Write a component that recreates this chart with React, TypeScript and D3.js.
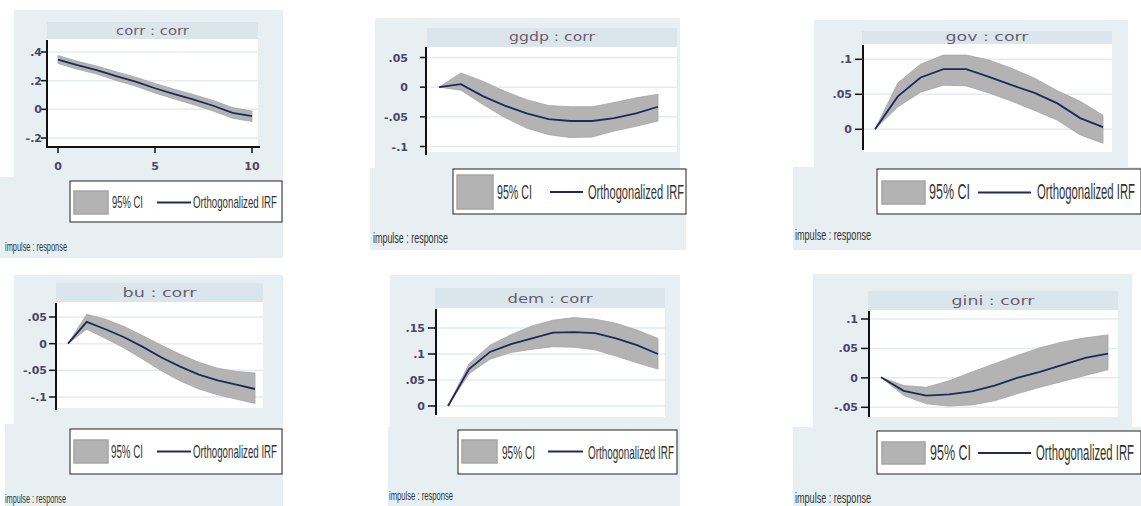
import React from "react";
import * as d3 from "d3";

// ---------- data ----------
const steps = [0, 1, 2, 3, 4, 5, 6, 7, 8, 9, 10];
const panelTitles = ["corr : corr", "ggdp : corr", "gov : corr", "bu : corr", "dem : corr", "gini : corr"];

const corrIrf = [0.347, 0.308, 0.274, 0.232, 0.193, 0.147, 0.106, 0.067, 0.025, -0.025, -0.048];
const corrHi = [0.375, 0.335, 0.302, 0.262, 0.224, 0.18, 0.14, 0.102, 0.062, 0.012, -0.012];
const corrLo = [0.32, 0.28, 0.246, 0.202, 0.162, 0.114, 0.072, 0.032, -0.012, -0.062, -0.085];

const ggdpIrf = [0, 0.005, -0.015, -0.031, -0.044, -0.054, -0.057, -0.057, -0.052, -0.044, -0.033];
const ggdpHi = [0, 0.024, 0.01, -0.007, -0.021, -0.031, -0.033, -0.033, -0.026, -0.018, -0.012];
const ggdpLo = [0, -0.005, -0.029, -0.051, -0.069, -0.08, -0.085, -0.084, -0.074, -0.066, -0.057];

const govIrf = [0, 0.047, 0.074, 0.086, 0.086, 0.075, 0.063, 0.052, 0.037, 0.016, 0.003];
const govHi = [0, 0.066, 0.093, 0.106, 0.106, 0.099, 0.087, 0.073, 0.055, 0.04, 0.02];
const govLo = [0, 0.032, 0.053, 0.063, 0.062, 0.052, 0.04, 0.027, 0.013, -0.008, -0.02];

const buIrf = [0, 0.041, 0.027, 0.012, -0.006, -0.026, -0.043, -0.058, -0.069, -0.077, -0.085];
const buHi = [0, 0.055, 0.046, 0.032, 0.015, -0.003, -0.02, -0.035, -0.046, -0.052, -0.055];
const buLo = [0, 0.027, 0.01, -0.008, -0.029, -0.051, -0.07, -0.085, -0.096, -0.104, -0.112];

const demIrf = [0, 0.071, 0.104, 0.119, 0.13, 0.141, 0.142, 0.14, 0.13, 0.117, 0.1];
const demHi = [0, 0.081, 0.117, 0.137, 0.154, 0.165, 0.17, 0.167, 0.159, 0.146, 0.13];
const demLo = [0, 0.062, 0.09, 0.103, 0.109, 0.114, 0.113, 0.108, 0.096, 0.083, 0.071];

const giniIrf = [0.001, -0.022, -0.03, -0.028, -0.023, -0.013, 0, 0.01, 0.022, 0.034, 0.041];
const giniHi = [0.001, -0.013, -0.016, -0.005, 0.01, 0.024, 0.038, 0.051, 0.061, 0.068, 0.073];
const giniLo = [0.001, -0.03, -0.044, -0.048, -0.046, -0.039, -0.027, -0.016, -0.006, 0.004, 0.014];

const corrTicks = [0.4, 0.2, 0, -0.2];
const ggdpTicks = [0.05, 0, -0.05, -0.1];
const govTicks = [0.1, 0.05, 0];
const buTicks = [0.05, 0, -0.05, -0.1];
const demTicks = [0.15, 0.1, 0.05, 0];
const giniTicks = [0.1, 0.05, 0, -0.05];
const xTicks = [0, 5, 10];

const legendLabels = ["95% CI", "Orthogonalized IRF"];
const captionText = "impulse : response";

const seriesList = [
  { irf: corrIrf, hi: corrHi, lo: corrLo, ticks: corrTicks },
  { irf: ggdpIrf, hi: ggdpHi, lo: ggdpLo, ticks: ggdpTicks },
  { irf: govIrf, hi: govHi, lo: govLo, ticks: govTicks },
  { irf: buIrf, hi: buHi, lo: buLo, ticks: buTicks },
  { irf: demIrf, hi: demHi, lo: demLo, ticks: demTicks },
  { irf: giniIrf, hi: giniHi, lo: giniLo, ticks: giniTicks },
];

// ---------- layout ----------
type Box = { x: number; y: number; w: number; h: number };
interface Layout {
  bgTop: Box;
  bgBot: Box;
  header: Box;
  titleY: number;
  titleW: number;
  plot: Box;
  axisY1: number;
  axisY2: number;
  x0: number;
  x10: number;
  yA: [number, number];
  yB: [number, number];
  labelRight: number;
  tickLen: number;
  xAxis?: { y: number; x2: number; labelY: number };
  legend: Box;
  sw: Box;
  ciX: number;
  ciW: number;
  lineX1: number;
  lineX2: number;
  irfX: number;
  irfW: number;
  legendFs: number;
  capX: number;
  capY: number;
  capW: number;
  capFs: number;
}

const layouts: Layout[] = [
  {
    bgTop: { x: 14, y: 10, w: 269, h: 167 },
    bgBot: { x: 0, y: 177, w: 283, h: 81 },
    header: { x: 47, y: 22, w: 211, h: 17 },
    titleY: 35, titleW: 73,
    plot: { x: 47, y: 39, w: 211, h: 108 },
    axisY1: 40, axisY2: 148,
    x0: 58, x10: 252,
    yA: [0.4, 52], yB: [-0.2, 138],
    labelRight: 42, tickLen: 6,
    xAxis: { y: 147, x2: 260, labelY: 170 },
    legend: { x: 70, y: 181, w: 212, h: 41 },
    sw: { x: 74, y: 191, w: 34, h: 23 },
    ciX: 112, ciW: 31, lineX1: 157, lineX2: 191, irfX: 193, irfW: 84, legendFs: 17,
    capX: 5, capY: 251, capW: 62, capFs: 12,
  },
  {
    bgTop: { x: 375, y: 18, w: 305, h: 150 },
    bgBot: { x: 370, y: 168, w: 316, h: 82 },
    header: { x: 427, y: 28, w: 250, h: 19 },
    titleY: 41, titleW: 86,
    plot: { x: 426, y: 47, w: 251, h: 105 },
    axisY1: 47, axisY2: 155,
    x0: 439, x10: 658,
    yA: [0.05, 57.5], yB: [-0.1, 146.5],
    labelRight: 408, tickLen: 6,
    legend: { x: 453, y: 169, w: 233, h: 45 },
    sw: { x: 457, y: 175, w: 36, h: 34 },
    ciX: 497, ciW: 35, lineX1: 550, lineX2: 583, irfX: 588, irfW: 96, legendFs: 21,
    capX: 373, capY: 243, capW: 75, capFs: 14,
  },
  {
    bgTop: { x: 814, y: 20, w: 314, h: 147 },
    bgBot: { x: 793, y: 167, w: 348, h: 83 },
    header: { x: 862, y: 31, w: 250, h: 13 },
    titleY: 41, titleW: 83,
    plot: { x: 863, y: 44, w: 249, h: 108 },
    axisY1: 45, axisY2: 150,
    x0: 875, x10: 1103,
    yA: [0.1, 59.3], yB: [0, 129.3],
    labelRight: 852, tickLen: 8,
    legend: { x: 877, y: 169, w: 264, h: 45 },
    sw: { x: 882, y: 181, w: 43, h: 23 },
    ciX: 929, ciW: 41, lineX1: 978, lineX2: 1031, irfX: 1037, irfW: 98, legendFs: 22,
    capX: 795, capY: 240, capW: 76, capFs: 14,
  },
  {
    bgTop: { x: 14, y: 275, w: 269, h: 149 },
    bgBot: { x: 5, y: 424, w: 278, h: 82 },
    header: { x: 56, y: 283, w: 207, h: 19 },
    titleY: 297, titleW: 74,
    plot: { x: 56, y: 302, w: 207, h: 106 },
    axisY1: 303, axisY2: 410,
    x0: 68, x10: 255,
    yA: [0.05, 317], yB: [-0.1, 397],
    labelRight: 47, tickLen: 7,
    legend: { x: 70, y: 429, w: 212, h: 45 },
    sw: { x: 74, y: 440, w: 34, h: 23 },
    ciX: 111, ciW: 32, lineX1: 157, lineX2: 191, irfX: 193, irfW: 84, legendFs: 19,
    capX: 5, capY: 503, capW: 61, capFs: 12,
  },
  {
    bgTop: { x: 390, y: 275, w: 290, h: 152 },
    bgBot: { x: 388, y: 427, w: 292, h: 79 },
    header: { x: 435, y: 288, w: 230, h: 20 },
    titleY: 303, titleW: 85,
    plot: { x: 436, y: 308, w: 229, h: 109 },
    axisY1: 309, axisY2: 415,
    x0: 448, x10: 658,
    yA: [0.15, 328], yB: [0, 406],
    labelRight: 425, tickLen: 8,
    legend: { x: 458, y: 430, w: 219, h: 44 },
    sw: { x: 462, y: 440, w: 35, h: 23 },
    ciX: 502, ciW: 33, lineX1: 548, lineX2: 583, irfX: 588, irfW: 86, legendFs: 19,
    capX: 389, capY: 500, capW: 64, capFs: 12,
  },
  {
    bgTop: { x: 813, y: 274, w: 319, h: 153 },
    bgBot: { x: 793, y: 427, w: 348, h: 79 },
    header: { x: 868, y: 291, w: 250, h: 19 },
    titleY: 305, titleW: 83,
    plot: { x: 869, y: 310, w: 249, h: 107 },
    axisY1: 311, axisY2: 417,
    x0: 881, x10: 1108,
    yA: [0.1, 319], yB: [-0.05, 407.3],
    labelRight: 858, tickLen: 8,
    legend: { x: 877, y: 431, w: 264, h: 43 },
    sw: { x: 882, y: 442, w: 43, h: 22 },
    ciX: 930, ciW: 41, lineX1: 978, lineX2: 1031, irfX: 1036, irfW: 98, legendFs: 22,
    capX: 795, capY: 503, capW: 76, capFs: 14,
  },
];

const fmtTick = (v: number) => {
  if (Math.abs(v) < 1e-9) return "0";
  const s = String(Math.abs(v)).replace(/^0/, "");
  return (v < 0 ? "-" : "") + s;
};

const BG = "#e8eff2";
const HEADER = "#dbe6ec";
const GRID = "#e3ecf1";
const BAND = "#b3b3b3";
const BAND_EDGE = "#a5a5a5";
const LINE = "#1c2a5c";
const TICK_TXT = "#4a4668";
const LEG_TXT = "#333";
const NARROW = "Liberation Sans Narrow, Liberation Sans, sans-serif";

// condensed text: drawn at a small size, fitted to width, then stretched vertically
function TallText({ x, y, w, fs, k, children }: { x: number; y: number; w: number; fs: number; k: number; children: string }) {
  return (
    <text
      transform={`translate(${x},${y}) scale(1,${1 / k})`}
      x={0}
      y={0}
      fontFamily={NARROW}
      fontSize={fs * k}
      fill={LEG_TXT}
      textLength={w}
      lengthAdjust="spacingAndGlyphs"
    >
      {children}
    </text>
  );
}

function Panel({ idx }: { idx: number }) {
  const L = layouts[idx];
  const S = seriesList[idx];
  const x = d3.scaleLinear().domain([0, 10]).range([L.x0, L.x10]);
  const y = d3.scaleLinear().domain([L.yA[0], L.yB[0]]).range([L.yA[1], L.yB[1]]);
  const area = d3
    .area<number>()
    .x((_, i) => x(steps[i]))
    .y0((_, i) => y(S.lo[i]))
    .y1((_, i) => y(S.hi[i]));
  const line = d3
    .line<number>()
    .x((_, i) => x(steps[i]))
    .y((d) => y(d));
  const lgCy = L.sw.y + L.sw.h / 2;
  const lgBase = L.legend.y + L.legend.h / 2 + L.legendFs * 0.36;
  return (
    <g>
      <rect x={L.bgTop.x} y={L.bgTop.y} width={L.bgTop.w} height={L.bgTop.h} fill={BG} />
      <rect x={L.bgBot.x} y={L.bgBot.y} width={L.bgBot.w} height={L.bgBot.h} fill={BG} />
      <rect x={L.header.x} y={L.header.y} width={L.header.w} height={L.header.h} fill={HEADER} />
      <text
        x={L.header.x + L.header.w / 2}
        y={L.titleY}
        textAnchor="middle"
        fontFamily="DejaVu Sans, sans-serif"
        fontSize={12}
        fill="#6a5e6e"
        textLength={L.titleW}
        lengthAdjust="spacingAndGlyphs"
      >
        {panelTitles[idx]}
      </text>
      <rect x={L.plot.x} y={L.plot.y} width={L.plot.w} height={L.plot.h} fill="#ffffff" />
      {S.ticks.map((t) => (
        <line key={"g" + t} x1={L.plot.x} x2={L.plot.x + L.plot.w} y1={y(t)} y2={y(t)} stroke={GRID} strokeWidth={1.5} />
      ))}
      <path d={area(S.irf) || ""} fill={BAND} stroke={BAND_EDGE} strokeWidth={0.8} />
      <path d={line(S.irf) || ""} fill="none" stroke={LINE} strokeWidth={1.8} />
      <line x1={L.plot.x} x2={L.plot.x} y1={L.axisY1} y2={L.axisY2} stroke="#111" strokeWidth={2} />
      {S.ticks.map((t) => (
        <g key={"t" + t}>
          <line x1={L.plot.x - L.tickLen} x2={L.plot.x} y1={y(t)} y2={y(t)} stroke="#111" strokeWidth={1.5} />
          <text
            x={L.labelRight}
            y={y(t) + 4}
            textAnchor="end"
            fontFamily="DejaVu Sans, sans-serif"
            fontWeight="bold"
            fontSize={11}
            fill={TICK_TXT}
          >
            {fmtTick(t)}
          </text>
        </g>
      ))}
      {L.xAxis && (
        <g>
          <line x1={L.plot.x} x2={L.xAxis.x2} y1={L.xAxis.y} y2={L.xAxis.y} stroke="#111" strokeWidth={2} />
          {xTicks.map((t) => (
            <g key={"x" + t}>
              <line x1={x(t)} x2={x(t)} y1={L.xAxis!.y} y2={L.xAxis!.y + 6} stroke="#111" strokeWidth={1.5} />
              <text
                x={x(t)}
                y={L.xAxis!.labelY}
                textAnchor="middle"
                fontFamily="DejaVu Sans, sans-serif"
                fontWeight="bold"
                fontSize={11}
                fill={TICK_TXT}
              >
                {t}
              </text>
            </g>
          ))}
        </g>
      )}
      <rect x={L.legend.x} y={L.legend.y} width={L.legend.w} height={L.legend.h} fill="#fff" stroke="#222" strokeWidth={1} />
      <rect x={L.sw.x} y={L.sw.y} width={L.sw.w} height={L.sw.h} fill={BAND} stroke={BAND_EDGE} strokeWidth={1.5} />
      <TallText x={L.ciX} y={lgBase} w={L.ciW} fs={L.legendFs} k={0.45}>
        {legendLabels[0]}
      </TallText>
      <line x1={L.lineX1} x2={L.lineX2} y1={lgCy} y2={lgCy} stroke={LINE} strokeWidth={2} />
      <TallText x={L.irfX} y={lgBase} w={L.irfW} fs={L.legendFs} k={0.45}>
        {legendLabels[1]}
      </TallText>
      <TallText x={L.capX} y={L.capY} w={L.capW} fs={L.capFs} k={0.55}>
        {captionText}
      </TallText>
    </g>
  );
}

export default function App() {
  return (
    <svg
      width={1141}
      height={506}
      viewBox="0 0 1141 506"
      style={{ position: "absolute", left: 0, top: 0, background: "#fff" }}
    >
      <rect x={0} y={0} width={1141} height={506} fill="#fff" />
      {layouts.map((_, i) => (
        <Panel key={i} idx={i} />
      ))}
    </svg>
  );
}
